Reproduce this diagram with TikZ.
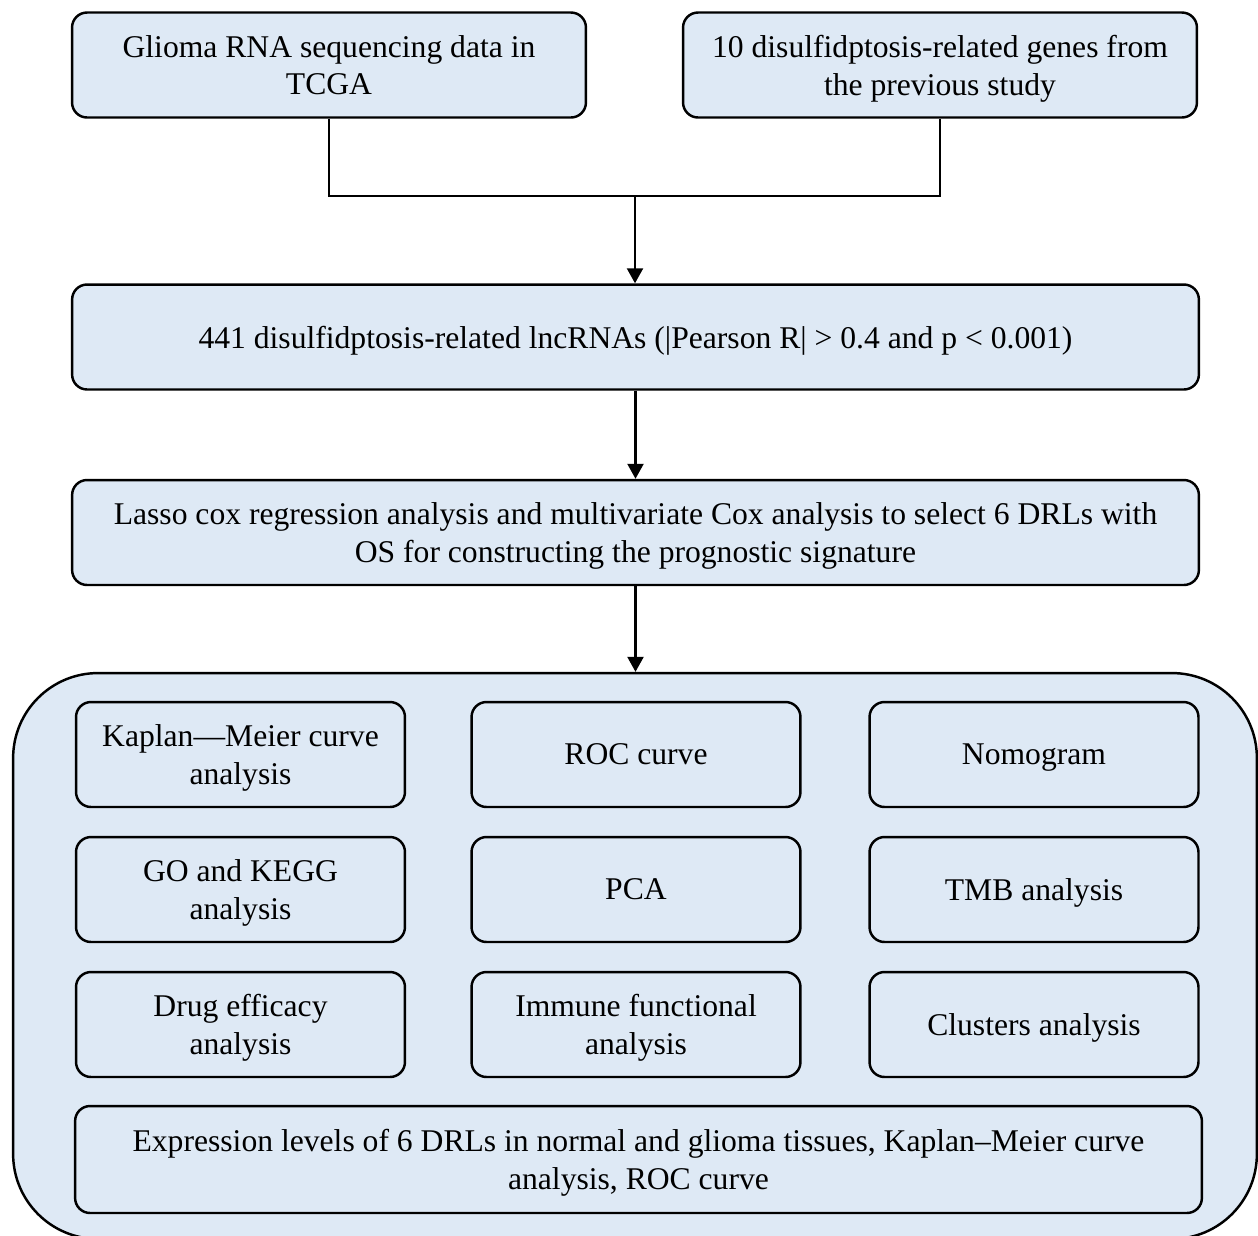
\documentclass[tikz,border=0pt]{standalone}
\usepackage{fontspec}
\setmainfont{Liberation Serif}
\usepackage{xcolor}
\usepackage{tikz}
\usetikzlibrary{arrows.meta}
\definecolor{flowblue}{RGB}{222,233,245}

\begin{document}
\begin{tikzpicture}[x=0.02cm, y=-0.02cm,
    box/.style={draw, fill=flowblue, line width=1.4pt, rounded corners=0.3cm, align=center, inner sep=0pt, text depth=0pt, font=\fontsize{18}{21.6}\selectfont},
    halfbox/.style={box, minimum width=10.28cm, minimum height=2.1cm},
    widebox/.style={box, minimum width=22.54cm, minimum height=2.1cm},
    smallbox/.style={box, minimum width=6.58cm, minimum height=2.1cm},
    link/.style={line width=1.3pt},
    arr/.style={link, -{Triangle[length=0.3cm, width=0.32cm]}}]
    \clip (0,0) rectangle (1258,1235);

    \node[halfbox] (tcga) at (329, 65) {Glioma RNA sequencing data in\\TCGA};
    \node[halfbox] (genes) at (940, 65) {10 disulfidptosis-related genes from\\the previous study};
    \coordinate (join) at (635, 196);

    \node[widebox] (lnc) at (635.5, 337) {441 disulfidptosis-related lncRNAs (|Pearson R| > 0.4 and p < 0.001)};
    \node[widebox] (lasso) at (635.5, 532.5) {Lasso cox regression analysis and multivariate Cox analysis to select 6 DRLs with\\OS for constructing the prognostic signature};

    % results panel
    \node[draw, fill=flowblue, line width=1.4pt, rounded corners=1.7cm, minimum width=24.88cm, minimum height=11.32cm] (results) at (635, 956) {};

    \node[smallbox] (km) at (240.5, 754.5) {Kaplan—Meier curve\\analysis};
    \node[smallbox] (roc) at (636, 754.5) {ROC curve};
    \node[smallbox] (nomo) at (1034, 754.5) {Nomogram};

    \node[smallbox] (go) at (240.5, 889.5) {GO and KEGG\\analysis};
    \node[smallbox] (pca) at (636, 889.5) {PCA};
    \node[smallbox] (tmb) at (1034, 889.5) {TMB analysis};

    \node[smallbox] (drug) at (240.5, 1024.5) {Drug efficacy\\analysis};
    \node[smallbox] (immune) at (636, 1024.5) {Immune functional\\analysis};
    \node[smallbox] (clust) at (1034, 1024.5) {Clusters analysis};

    \node[widebox, minimum height=2.14cm] (expr) at (638.5, 1159.5) {Expression levels of 6 DRLs in normal and glioma tissues, Kaplan–Meier curve\\analysis, ROC curve};

    \draw[link] (tcga.south) |- (join) -| (genes.south);
    \draw[arr] (join) -- (join |- lnc.north);
    \draw[arr] (lnc.south) -- (lasso.north);
    \draw[arr] (lasso.south) -- (results.north -| lasso.south);
\end{tikzpicture}
\end{document}
